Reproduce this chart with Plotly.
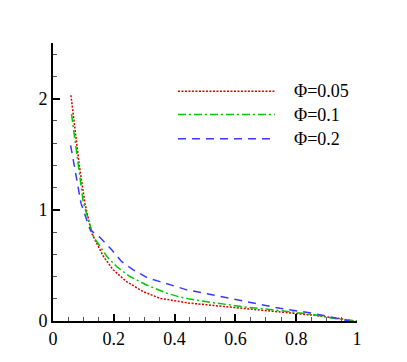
import plotly.graph_objects as go

# Phi = 0.05 (red, dotted)
x_005 = [0.059, 0.069, 0.087, 0.105, 0.127, 0.166, 0.198, 0.242, 0.297, 0.352, 0.418, 0.445,
         0.527, 0.637, 0.747, 0.856, 0.944, 0.99]
y_005 = [2.03, 1.78, 1.39, 1.06, 0.79, 0.58, 0.46, 0.354, 0.264, 0.204, 0.174, 0.162,
         0.140, 0.112, 0.082, 0.052, 0.022, 0.0]

# Phi = 0.1 (green, dash-dot)
x_01 = [0.061, 0.083, 0.100, 0.133, 0.177, 0.209, 0.253, 0.308, 0.374, 0.418, 0.445,
        0.527, 0.637, 0.747, 0.856, 0.933, 1.0]
y_01 = [1.86, 1.42, 1.06, 0.76, 0.58, 0.49, 0.40, 0.324, 0.25, 0.215, 0.200,
        0.165, 0.124, 0.094, 0.058, 0.020, 0.0]

# Phi = 0.2 (blue, dashed)
x_02 = [0.058, 0.075, 0.092, 0.122, 0.155, 0.193, 0.226, 0.264, 0.313, 0.352, 0.396, 0.44,
        0.527, 0.637, 0.747, 0.856, 0.91, 0.955, 0.975]
y_02 = [1.58, 1.30, 1.06, 0.82, 0.75, 0.64, 0.534, 0.46, 0.385, 0.354, 0.315, 0.28,
        0.234, 0.174, 0.114, 0.069, 0.039, 0.015, 0.0]

names = ["Φ=0.05", "Φ=0.1", "Φ=0.2"]
colors = ["#dd0000", "#00c800", "#3a3aff"]
dashes = ["2px,1.5px", "8px,3px,2px,3px", "8px,6px"]
series = [(x_005, y_005), (x_01, y_01), (x_02, y_02)]

FONT = "Liberation Serif"

fig = go.Figure()
for (xs, ys), name, color, dash in zip(series, names, colors, dashes):
    fig.add_trace(go.Scatter(x=xs, y=ys, mode="lines", name=name,
                             line=dict(color=color, width=1.5, dash=dash), showlegend=False))

# hand-drawn legend with long line samples
legend_y = [2.066, 1.856, 1.64]
for name, color, dash, ly in zip(names, colors, dashes, legend_y):
    fig.add_shape(type="line", xref="x", yref="y", x0=0.411, x1=0.730, y0=ly, y1=ly,
                  line=dict(color=color, width=1.5, dash=dash))
    fig.add_annotation(xref="x", yref="y", x=0.786, y=ly, text=name, showarrow=False,
                       xanchor="left", yanchor="middle", font=dict(size=18, color="black", family=FONT))

axis_common = dict(showline=True, linecolor="black", linewidth=2, showgrid=False, zeroline=False,
                   ticks="inside", ticklen=7, tickwidth=2, tickcolor="black",
                   tickfont=dict(size=18, color="black", family=FONT))
fig.update_xaxes(range=[0, 1], dtick=0.2, tick0=0,
                 minor=dict(dtick=0.05, ticks="inside", ticklen=4, tickwidth=1, tickcolor="#555"),
                 **axis_common)
fig.update_yaxes(range=[0, 2.5], dtick=1, tick0=0,
                 minor=dict(dtick=0.2, ticks="inside", ticklen=4, tickwidth=1, tickcolor="#555"),
                 **axis_common)
# the page body keeps its default 8px margin, so the figure is 8px smaller and offset
fig.update_layout(width=399, height=354, paper_bgcolor="white", plot_bgcolor="white",
                  margin=dict(l=45, r=50, t=35, b=41), font=dict(family=FONT))
fig.write_html("out.html")
